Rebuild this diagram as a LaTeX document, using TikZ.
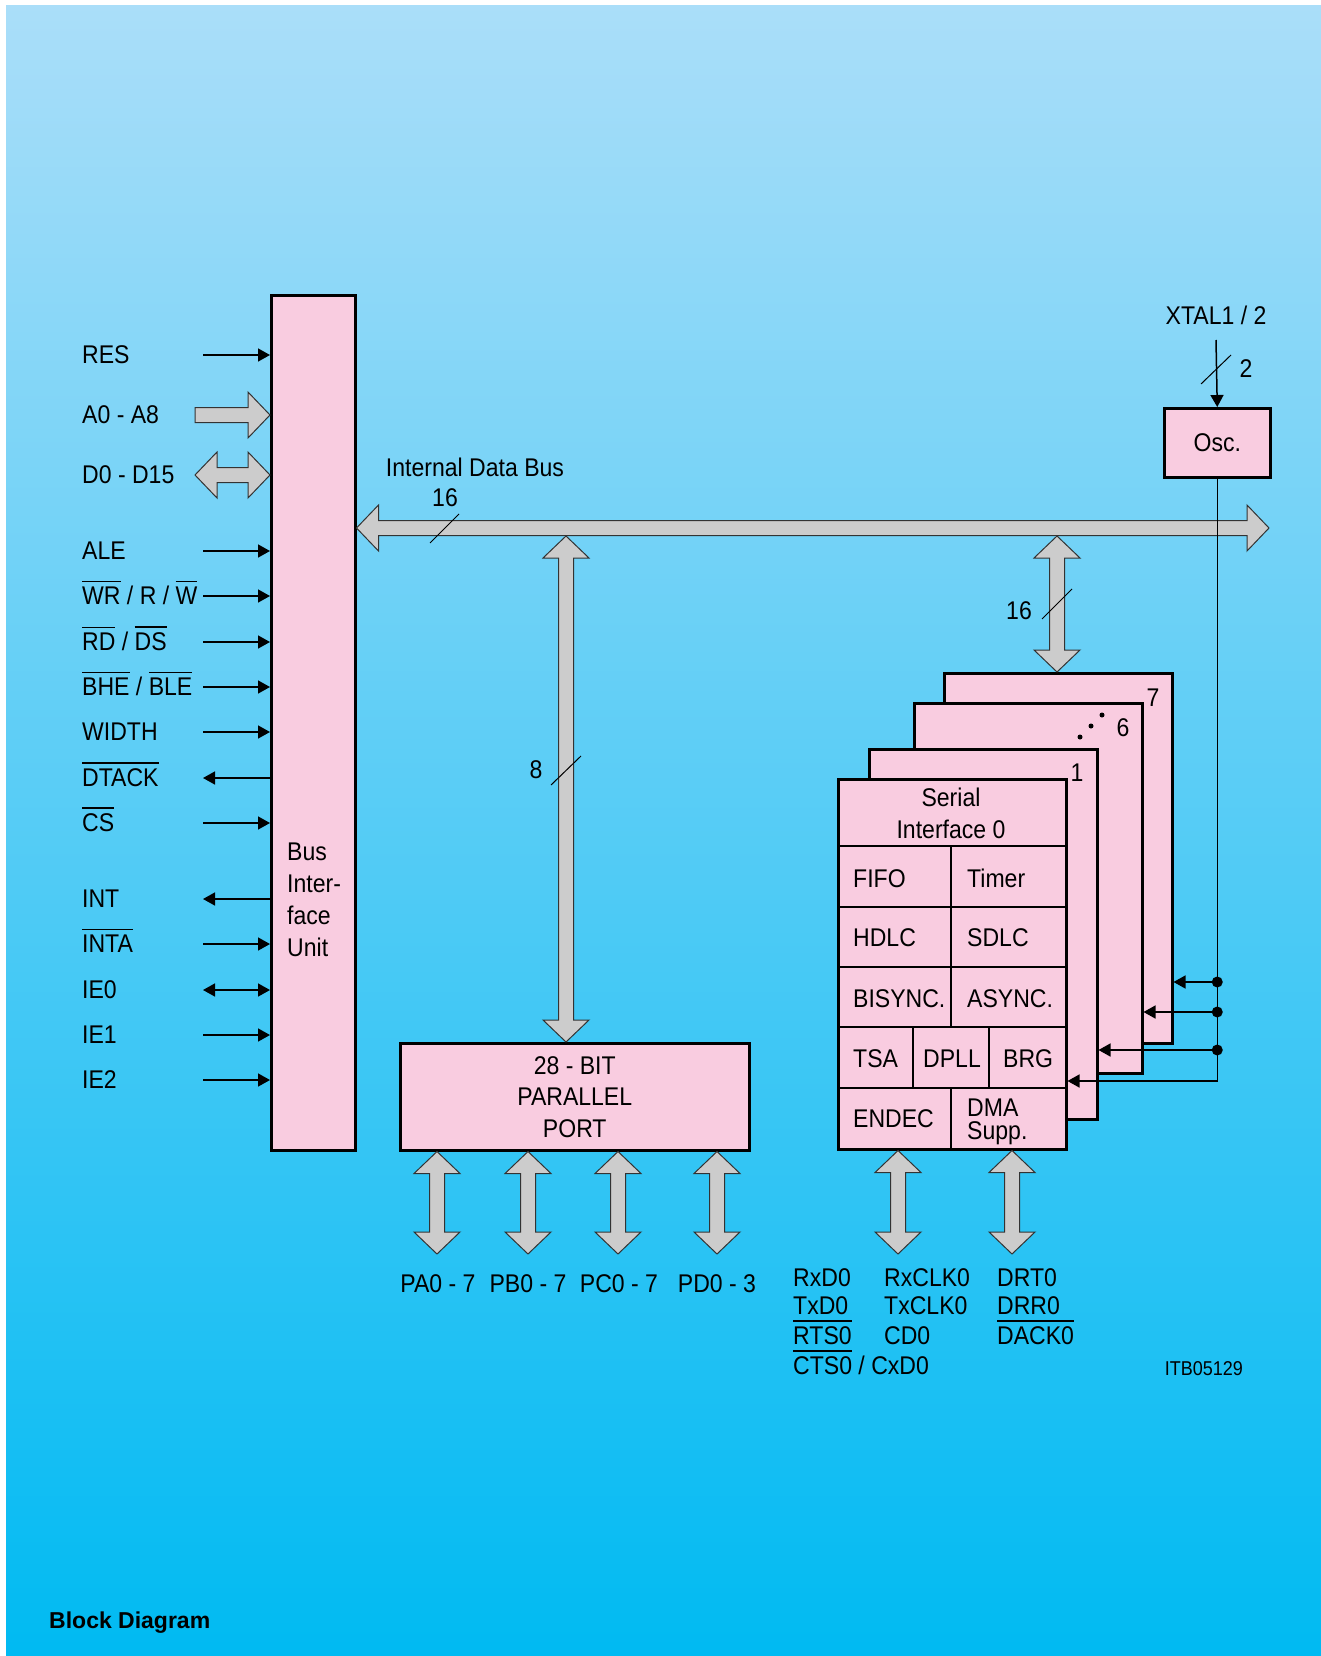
\documentclass[tikz,border=0pt]{standalone}
\usepackage{fontspec}
\setmainfont{Liberation Sans}[FakeStretch=0.9]
\newfontfamily\titlefont{Liberation Sans}
\usepackage{tikz}
\usetikzlibrary{arrows.meta,calc}

\definecolor{bgtop}{RGB}{170,222,249}
\definecolor{bgbottom}{RGB}{0,186,242}
\definecolor{boxpink}{RGB}{249,204,224}
\definecolor{busgrey}{RGB}{204,204,204}

% overlined signal name, bar well above the caps
\newcommand{\ovl}[1]{\leavevmode\vbox{\hrule height 1.3pt\kern 4.5pt\hbox{#1}}}

% fat bus arrows: vertical double, horizontal double, horizontal single
\newcommand{\vbus}[2]{%
  \draw[bus] let \p1=#1, \p2=#2 in (\x1,\y1) -- (\x1+23pt,\y1-22pt) -- (\x1+7.5pt,\y1-22pt)
    -- (\x1+7.5pt,\y2+22pt) -- (\x1+23pt,\y2+22pt) -- (\x1,\y2) -- (\x1-23pt,\y2+22pt)
    -- (\x1-7.5pt,\y2+22pt) -- (\x1-7.5pt,\y1-22pt) -- (\x1-23pt,\y1-22pt) -- cycle;}
\newcommand{\hbus}[2]{%
  \draw[bus] let \p1=#1, \p2=#2 in (\x1,\y1) -- (\x1+22pt,\y1+23pt) -- (\x1+22pt,\y1+7.5pt)
    -- (\x2-22pt,\y1+7.5pt) -- (\x2-22pt,\y1+23pt) -- (\x2,\y1) -- (\x2-22pt,\y1-23pt)
    -- (\x2-22pt,\y1-7.5pt) -- (\x1+22pt,\y1-7.5pt) -- (\x1+22pt,\y1-23pt) -- cycle;}
\newcommand{\hbusin}[2]{%
  \draw[bus] let \p1=#1, \p2=#2 in (\x1,\y1+7.5pt) -- (\x2-22pt,\y1+7.5pt) -- (\x2-22pt,\y1+23pt)
    -- (\x2,\y1) -- (\x2-22pt,\y1-23pt) -- (\x2-22pt,\y1-7.5pt) -- (\x1,\y1-7.5pt) -- cycle;}

\begin{document}
\begin{tikzpicture}[x=1pt, y=-1pt,
    font=\fontsize{25.6}{31}\selectfont,
    block/.style={draw, line width=2.5pt, fill=boxpink, inner sep=0pt},
    bus/.style={draw=black!80, line width=1pt, fill=busgrey},
    sig/.style={line width=1.5pt, -{Triangle[length=12pt,width=13pt]}},
    sigout/.style={line width=1.5pt, {Triangle[length=12pt,width=13pt]}-},
    sigboth/.style={line width=1.5pt, {Triangle[length=12pt,width=13pt]}-{Triangle[length=12pt,width=13pt]}},
    slash/.style={line width=1pt},
    lbl/.style={anchor=base west, inner sep=0pt},
    num/.style={anchor=base, inner sep=0pt}]

  % Background
  \fill[white] (0,0) rectangle (1321,1656);
  \shade[top color=bgtop, bottom color=bgbottom] (6,6) rectangle (1321,1656);
  \useasboundingbox (0,0) rectangle (1321,1656);

  % Blocks
  \node[block, minimum width=84pt, minimum height=855pt, anchor=north west] (biu) at (270,294) {};
  \node[anchor=west, align=left, inner sep=0pt, font=\fontsize{25.6}{32}\selectfont] (biutext) at (287,900) {Bus\\Inter-\\face\\Unit};
  \node[block, minimum width=349pt, minimum height=107pt, anchor=north west, align=center,
        font=\fontsize{25.6}{31.5}\selectfont] (port) at (399,1042) {28 - BIT\\PARALLEL\\PORT};
  \node[block, minimum width=106pt, minimum height=69pt, anchor=north west] (osc) at (1163,407) {Osc.};

  % Internal data bus
  \coordinate (busL) at (biu.east |- 0,528);
  \coordinate (busR) at (1269,528);
  \hbus{(busL)}{(busR)};
  \node[num] (buslabel) at (475,476) {Internal Data Bus};
  \node[num] (buswidth) at (445,506) {16};
  \draw[slash] (430,543) -- (459,514);

  % Bus to parallel port
  \coordinate (pbus) at (566,536);
  \vbus{(pbus)}{(pbus |- port.north)};
  \node[num] (portwidth) at (536,778) {8};
  \draw[slash] (551,785) -- (581,756);

  % Serial interfaces 7 .. 0
  \node[block, minimum width=228pt, minimum height=370pt, anchor=north west] (card7) at (943,672) {};
  \node[block, minimum width=228pt, minimum height=370pt, anchor=north west] (card6) at (913,702) {};
  \node[block, minimum width=228pt, minimum height=370pt, anchor=north west] (card1) at (868,748) {};
  \node[block, minimum width=228pt, minimum height=370pt, anchor=north west] (card0) at (837,778) {};
  \node[num] (n7) at (1153,706) {7};
  \node[num] (n6) at (1123,736) {6};
  \node[num] (n1) at (1077,781) {1};
  \fill (1080,737) circle (2.5pt) (1091,726) circle (2.5pt) (1102,715) circle (2.5pt);

  % Cells of serial interface 0
  \draw[line width=2.5pt] (837,846) -- (1065,846) (837,907) -- (1065,907) (837,967) -- (1065,967)
    (837,1027) -- (1065,1027) (837,1088) -- (1065,1088)
    (951,846) -- (951,1027) (951,1088) -- (951,1148) (913,1027) -- (913,1088) (989,1027) -- (989,1088);
  \node[num] (serial) at (951,806) {Serial};
  \node[num] (serial0) at (951,838) {Interface 0};
  \node[lbl] (fifo) at (853,887) {FIFO};
  \node[lbl] (timer) at (967,887) {Timer};
  \node[lbl] (hdlc) at (853,946) {HDLC};
  \node[lbl] (sdlc) at (967,946) {SDLC};
  \node[lbl] (bisync) at (853,1007) {BISYNC.};
  \node[lbl] (async) at (967,1007) {ASYNC.};
  \node[lbl] (tsa) at (853,1067) {TSA};
  \node[lbl] (dpll) at (923,1067) {DPLL};
  \node[lbl] (brg) at (1003,1067) {BRG};
  \node[lbl] (endec) at (853,1127) {ENDEC};
  \node[lbl] (dma) at (967,1116) {DMA};
  \node[lbl] (supp) at (967,1139) {Supp.};

  % Bus to serial interfaces
  \coordinate (sbus) at (1057,536);
  \vbus{(sbus)}{(sbus |- card7.north)};
  \node[num] (serwidth) at (1019,619) {16};
  \draw[slash] (1042,619) -- (1072,589);

  % Oscillator and clock lines
  \node[num] (xtal) at (1216,324) {XTAL1 / 2};
  \coordinate (xtal-in) at (1216,340);
  \draw[sig] (xtal-in) -- (osc.north);
  \draw[slash] (1201,384) -- (1231,355);
  \node[num] (xtalwidth) at (1246,377) {2};
  \coordinate (clk7) at (osc.south |- 0,982);
  \coordinate (clk6) at (osc.south |- 0,1012);
  \coordinate (clk1) at (osc.south |- 0,1050);
  \draw[sig] (osc.south) |- (card0.east |- 0,1081);
  \draw[sig] (clk7) -- (clk7 -| card7.east);
  \draw[sig] (clk6) -- (clk6 -| card6.east);
  \draw[sig] (clk1) -- (clk1 -| card1.east);
  \fill (clk7) circle (5.5pt) (clk6) circle (5.5pt) (clk1) circle (5.5pt);

  % Parallel port lines
  \coordinate (pa) at (437,1254);
  \coordinate (pb) at (528,1254);
  \coordinate (pc) at (618,1254);
  \coordinate (pd) at (717,1254);
  \vbus{(pa |- port.south)}{(pa)};
  \vbus{(pb |- port.south)}{(pb)};
  \vbus{(pc |- port.south)}{(pc)};
  \vbus{(pd |- port.south)}{(pd)};
  \node[num] (lpa) at (438,1292) {PA0 - 7};
  \node[num] (lpb) at (528,1292) {PB0 - 7};
  \node[num] (lpc) at (619,1292) {PC0 - 7};
  \node[num] (lpd) at (717,1292) {PD0 - 3};

  % Serial lines
  \coordinate (ser) at (898,1254);
  \coordinate (dma-out) at (1012,1254);
  \vbus{(ser |- card0.south)}{(ser)};
  \vbus{(dma-out |- card0.south)}{(dma-out)};
  \node[lbl] (rxd) at (793,1286) {RxD0};
  \node[lbl] (txd) at (793,1314) {TxD0};
  \node[lbl] (rts) at (793,1344) {\ovl{RTS0}};
  \node[lbl] (cts) at (793,1374) {\ovl{CTS0} / CxD0};
  \node[lbl] (rxclk) at (884,1286) {RxCLK0};
  \node[lbl] (txclk) at (884,1314) {TxCLK0};
  \node[lbl] (cd) at (884,1344) {CD0};
  \node[lbl] (drt) at (997,1286) {DRT0};
  \node[lbl] (drr) at (997,1314) {DRR0};
  \node[lbl] (dack) at (997,1344) {\ovl{DACK0}};

  % Bus interface signals
  \node[lbl] (res) at (82,363) {RES};
  \draw[sig] (203,355) coordinate (res-in) -- (res-in -| biu.west);
  \node[lbl] (addr) at (82,423) {A0 - A8};
  \coordinate (addr-in) at (195,415);
  \hbusin{(addr-in)}{(addr-in -| biu.west)};
  \node[lbl] (data) at (82,483) {D0 - D15};
  \coordinate (data-io) at (195,475);
  \hbus{(data-io)}{(data-io -| biu.west)};
  \node[lbl] (ale) at (82,559) {ALE};
  \draw[sig] (203,551) coordinate (ale-in) -- (ale-in -| biu.west);
  \node[lbl] (wr) at (82,604) {\ovl{WR} / R / \ovl{W}};
  \draw[sig] (203,596) coordinate (wr-in) -- (wr-in -| biu.west);
  \node[lbl] (rd) at (82,650) {\ovl{RD} / \ovl{DS}};
  \draw[sig] (203,642) coordinate (rd-in) -- (rd-in -| biu.west);
  \node[lbl] (bhe) at (82,695) {\ovl{BHE} / \ovl{BLE}};
  \draw[sig] (203,687) coordinate (bhe-in) -- (bhe-in -| biu.west);
  \node[lbl] (width) at (82,740) {WIDTH};
  \draw[sig] (203,732) coordinate (width-in) -- (width-in -| biu.west);
  \node[lbl] (dtack) at (82,786) {\ovl{DTACK}};
  \draw[sigout] (203,778) coordinate (dtack-out) -- (dtack-out -| biu.west);
  \node[lbl] (cs) at (82,831) {\ovl{CS}};
  \draw[sig] (203,823) coordinate (cs-in) -- (cs-in -| biu.west);
  \node[lbl] (int) at (82,907) {INT};
  \draw[sigout] (203,899) coordinate (int-out) -- (int-out -| biu.west);
  \node[lbl] (inta) at (82,952) {\ovl{INTA}};
  \draw[sig] (203,944) coordinate (inta-in) -- (inta-in -| biu.west);
  \node[lbl] (ie0) at (82,998) {IE0};
  \draw[sigboth] (203,990) coordinate (ie0-io) -- (ie0-io -| biu.west);
  \node[lbl] (ie1) at (82,1043) {IE1};
  \draw[sig] (203,1035) coordinate (ie1-in) -- (ie1-in -| biu.west);
  \node[lbl] (ie2) at (82,1088) {IE2};
  \draw[sig] (203,1080) coordinate (ie2-in) -- (ie2-in -| biu.west);

  % Captions
  \node[anchor=base east, inner sep=0pt, font=\fontsize{20}{24}\selectfont] (itb) at (1243,1375) {ITB05129};
  \node[anchor=base west, inner sep=0pt, font=\titlefont\bfseries\fontsize{23}{28}\selectfont] (title) at (49,1628) {Block Diagram};
\end{tikzpicture}
\end{document}
